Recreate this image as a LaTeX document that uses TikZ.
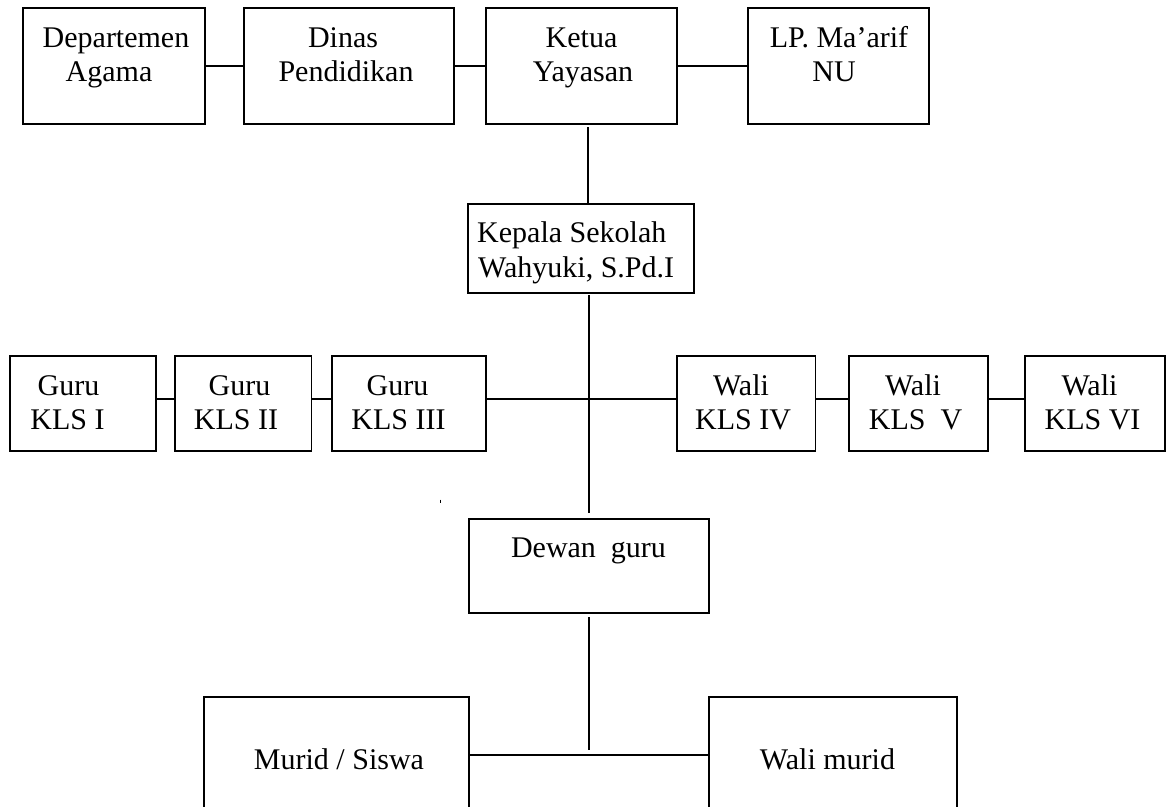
\documentclass[tikz,border=0pt]{standalone}
\usepackage{fontspec}
\setmainfont{Liberation Serif}
\begin{document}
\begin{tikzpicture}[x=1pt,y=-1pt,
  box/.style={draw, line width=1.3pt, inner sep=0pt, outer sep=0pt},
  sz/.style 2 args={minimum width=#1pt, minimum height=#2pt},
  txt/.style={inner sep=0pt, font=\fontsize{30}{35}\selectfont, anchor=base},
  txtw/.style={inner sep=0pt, font=\fontsize{30}{35}\selectfont, anchor=base west},
  link/.style={line width=1.2pt}]
\useasboundingbox (0,0) rectangle (1166,806);
\fill[white] (0,0) rectangle (1166,806);

% top row
\node[box, sz={182}{116}] (dep) at (114,66) {};
\node[box, sz={210}{116}] (din) at (349,66) {};
\node[box, sz={191}{116}] (ket) at (581.5,66) {};
\node[box, sz={181}{116}] (lp)  at (838.5,66) {};
\node[txt] (dep1) at (116,47) {Departemen};
\node[txt] (dep2) at (109,81) {Agama};
\node[txt] (din1) at (343,47) {Dinas};
\node[txt] (din2) at (346,81) {Pendidikan};
\node[txt] (ket1) at (581.5,47) {Ketua};
\node[txt] (ket2) at (583,81) {Yayasan};
\node[txt] (lp1) at (839,47) {LP. Ma’arif};
\node[txt] (lp2) at (834,81) {NU};

% kepala sekolah
\node[box, sz={226}{89}] (kep) at (581,248.5) {};
\node[txtw] (kep1) at (477,242) {Kepala Sekolah};
\node[txtw] (kep2) at (478,277) {Wahyuki, S.Pd.I};

% middle row
\node[box, sz={146}{95}] (g1) at (83,403.5) {};
\node[box, sz={136.5}{95}] (g2) at (243.25,403.5) {};
\node[box, sz={154}{95}] (g3) at (409,403.5) {};
\node[box, sz={138.5}{95}] (w4) at (746.25,403.5) {};
\node[box, sz={139}{95}] (w5) at (918.5,403.5) {};
\node[box, sz={140}{95}] (w6) at (1095,403.5) {};
\node[txt] (g1a) at (68.5,395) {Guru};
\node[txt] (g1b) at (67.5,429) {KLS I};
\node[txt] (g2a) at (239.5,395) {Guru};
\node[txt] (g2b) at (236,429) {KLS II};
\node[txt] (g3a) at (397.5,395) {Guru};
\node[txt] (g3b) at (398.5,429) {KLS III};
\node[txt] (w4a) at (741,395) {Wali};
\node[txt] (w4b) at (743,429) {KLS IV};
\node[txt] (w5a) at (913,395) {Wali};
\node[txt] (w5b) at (915.5,429) {KLS\ \ V};
\node[txt] (w6a) at (1089.5,395) {Wali};
\node[txt] (w6b) at (1092.5,429) {KLS VI};

% dewan guru
\node[box, sz={240}{94}] (dew) at (589,566) {};
\node[txt] (dew1) at (588.5,557) {Dewan\ \ guru};

% bottom row
\node[box, sz={265}{163}] (mur) at (336.5,778.5) {};
\node[box, sz={248}{163}] (wm) at (833,778.5) {};
\node[txt] (mur1) at (339,769) {Murid / Siswa};
\node[txt] (wm1) at (827.5,769) {Wali murid};

% connectors
\draw[link] (dep.east) -- (din.west);
\draw[link] (din.east) -- (ket.west);
\draw[link] (ket.east) -- (lp.west);
\coordinate (k1) at (588,127);
\draw[link] (k1) -- (k1 |- kep.north);
\coordinate (t1) at (589,295);
\coordinate (t2) at (589,513);
\draw[link] (t1) -- (t2);
\coordinate (mr) at (0,399);
\draw[link] (g1.east |- mr) -- (g2.west |- mr);
\draw[link] (g2.east |- mr) -- (g3.west |- mr);
\draw[link] (g3.east |- mr) -- (w4.west |- mr);
\draw[link] (w4.east |- mr) -- (w5.west |- mr);
\draw[link] (w5.east |- mr) -- (w6.west |- mr);
\coordinate (d1) at (589,617);
\coordinate (d2) at (589,750);
\draw[link] (d1) -- (d2);
\coordinate (br) at (0,755);
\draw[link] (mur.east |- br) -- (wm.west |- br);

% stray mark
\draw[line width=1pt] (440,499.5) -- (440,502.5);
\end{tikzpicture}
\end{document}
